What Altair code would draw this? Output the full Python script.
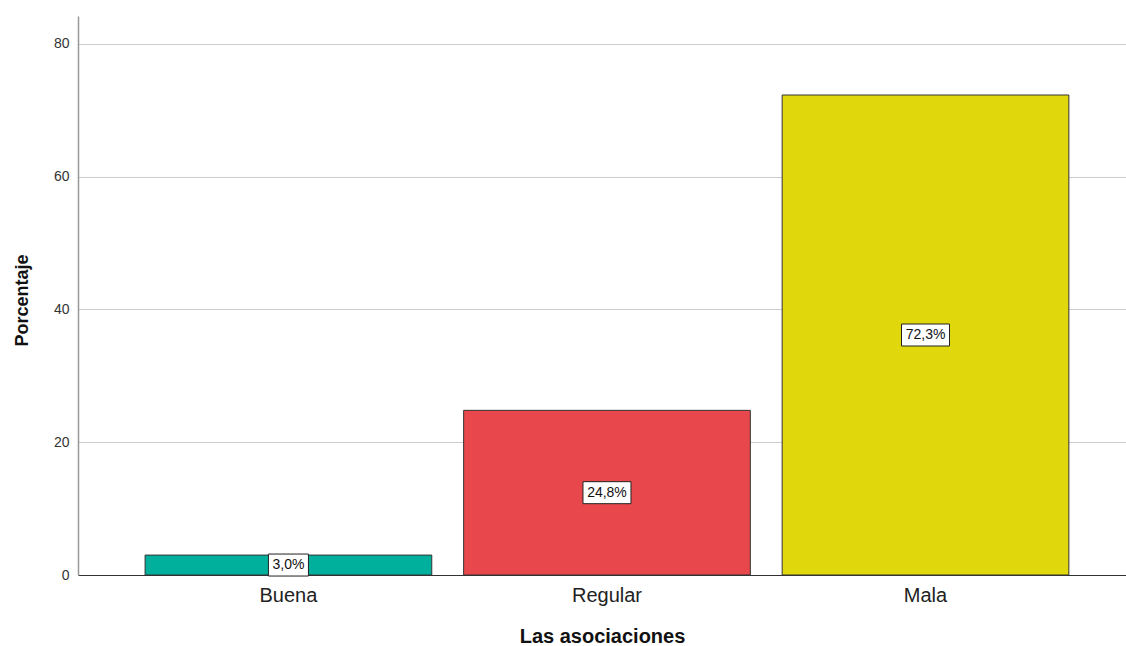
import altair as alt
import pandas as pd

categories = ["Buena", "Regular", "Mala"]
values = [3.0, 24.8, 72.3]
colors = ["#00B09C", "#E8474C", "#E0D80C"]

labels = [f"{v:.1f}".replace(".", ",") + "%" for v in values]

def box_path(text):
    hw = round(len(text) * 4.3 + 3)
    return f"M{-hw},-11 H{hw} V11 H{-hw} Z"

df = pd.DataFrame({
    "cat": categories,
    "val": values,
    "label": labels,
    "box": [box_path(t) for t in labels],
})

FONT = "Liberation Sans"

x_scale = alt.Scale(paddingInner=0.1, paddingOuter=0.195, align=0.54)
y_scale = alt.Scale(domain=[0, 84.2], nice=False)

x_enc = alt.X(
    "cat:N",
    sort=categories,
    scale=x_scale,
    axis=alt.Axis(
        title="Las asociaciones",
        labelAngle=0,
        labelFontSize=20,
        labelColor="#222222",
        labelFont=FONT,
        labelPadding=10,
        ticks=False,
        domainColor="#333333",
        domainWidth=1,
        titleFont=FONT,
        titleFontSize=20,
        titleFontWeight="bold",
        titleColor="#111111",
        titleY=61,
        titleBaseline="middle",
    ),
)

y_enc = alt.Y(
    "val:Q",
    scale=y_scale,
    axis=alt.Axis(
        title="Porcentaje",
        values=[0, 20, 40, 60, 80],
        ticks=False,
        labelFontSize=14,
        labelColor="#333333",
        labelFont=FONT,
        labelPadding=9,
        domainColor="#999999",
        domainWidth=1.5,
        grid=True,
        gridColor="#cccccc",
        gridWidth=1.2,
        titleFont=FONT,
        titleFontSize=18,
        titleFontWeight="bold",
        titleColor="#111111",
        titleX=-56,
        titleY=284,
        titleAngle=-90,
        titleBaseline="middle",
    ),
)

bars = alt.Chart(df).mark_bar(stroke="#333333", strokeWidth=1).encode(
    x=x_enc,
    y=y_enc,
    color=alt.Color("cat:N", scale=alt.Scale(domain=categories, range=colors), legend=None),
)

base = alt.Chart(df).transform_calculate(mid="datum.val / 2")

boxes = base.mark_point(
    filled=True, fill="white", stroke="#222222", strokeWidth=1, opacity=1, size=4
).encode(
    x=alt.X("cat:N", sort=categories, scale=x_scale),
    y=alt.Y("mid:Q", scale=y_scale),
    shape=alt.Shape("box:N", scale=None),
)

texts = base.mark_text(font=FONT, fontSize=14, color="#111111", baseline="middle").encode(
    x=alt.X("cat:N", sort=categories, scale=x_scale),
    y=alt.Y("mid:Q", scale=y_scale),
    text="label:N",
)

chart = alt.layer(bars, boxes, texts).properties(
    width=1048,
    height=559,
    background="white",
    autosize=alt.AutoSizeParams(type="none"),
    padding={"left": 78, "top": 16, "right": 0, "bottom": 71},
).configure_view(strokeWidth=0, stroke="transparent")

chart.save("out.html", embed_options={"renderer": "svg", "actions": False})
